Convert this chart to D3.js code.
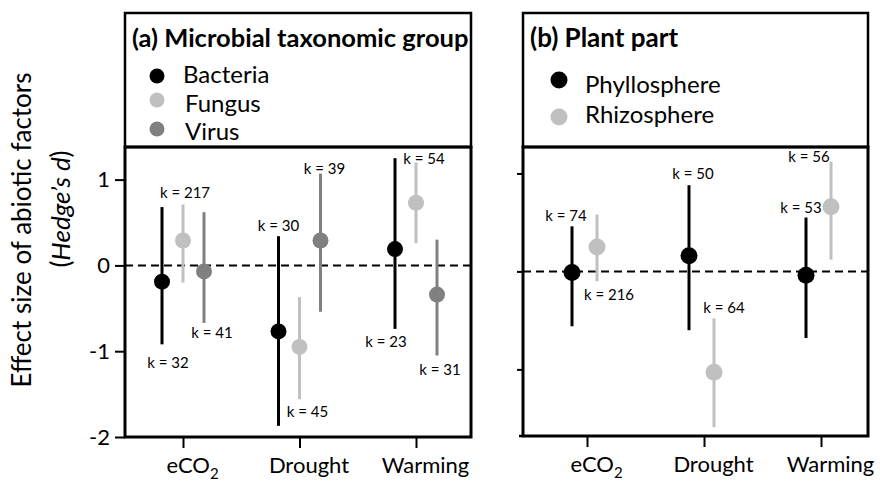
<!DOCTYPE html>
<html><head><meta charset="utf-8">
<script src="https://cdn.jsdelivr.net/npm/d3@7"></script>
<style>
body{margin:0;background:#fff;}
text{font-family:Lato,"Open Sans",sans-serif;fill:#000;}
</style></head>
<body><svg id="c" width="880" height="483"></svg>
<script>
// ---------- data ----------
const factors = ["eCO2", "Drought", "Warming"];

// Panel (a): microbial taxonomic group
const groupsA = ["Bacteria", "Fungus", "Virus"];
const meanA = [[-0.19, 0.29, -0.07], [-0.77, -0.95, 0.29], [0.19, 0.73, -0.34]];
const lowA  = [[-0.92, -0.20, -0.67], [-1.87, -1.56, -0.54], [-0.74, 0.26, -1.05]];
const highA = [[0.68, 0.71, 0.62], [0.34, -0.37, 1.07], [1.25, 1.20, 0.30]];
const kA    = [[32, 217, 41], [30, 45, 39], [23, 54, 31]];
const kSideA = [["below","above","below"],["above","below","above"],["below","above","below"]];

// Panel (b): plant part
const groupsB = ["Phyllosphere", "Rhizosphere"];
const meanB = [[-0.01, 0.25], [0.16, -1.03], [-0.04, 0.66]];
const lowB  = [[-0.56, -0.10], [-0.60, -1.59], [-0.68, 0.12]];
const highB = [[0.46, 0.58], [0.88, -0.48], [0.55, 1.12]];
const kB    = [[74, 216], [50, 64], [53, 56]];
const kSideB = [["above","below"],["above","above"],["above","above"]];

const yTicksA = [-2, -1, 0, 1];
const yTicksB = [-1, 0, 1];

// label nudges (annotation placement) [dx, dy]
const nudgeA = [[[6,24],[2,-6],[8,15]],[[0,-5],[8,18],[4,0]],[[-9,18],[8,2],[3,20]]];
const nudgeB = [[[-6,-5],[12,19]],[[4,-6],[10,-5]],[[-5,-5],[-22,0]]];

const colorsA = ["#000000", "#c0c0c0", "#808080"];
const colorsB = ["#000000", "#c0c0c0"];

// ---------- drawing ----------
const svg = d3.select("#c");

function panel(cfg) {
  const g = svg.append("g");
  const x = d3.scalePoint().domain(factors).range([cfg.xc0, cfg.xc1]);
  const dodge = d3.scalePoint().domain(cfg.groups).range(cfg.dodge);
  const y = d3.scaleLinear().domain(cfg.yDomain).range([cfg.bottom, cfg.top]);

  // header box
  g.append("rect").attr("x", cfg.left).attr("y", cfg.headTop)
    .attr("width", cfg.right - cfg.left).attr("height", cfg.top - cfg.headTop)
    .attr("fill", "none").attr("stroke", "#000").attr("stroke-width", 2.5);
  g.append("text").attr("x", cfg.titleX).attr("y", 47)
    .attr("font-weight", "bold").attr("font-size", cfg.titleSize).text(cfg.title);
  cfg.groups.forEach((s, i) => {
    g.append("circle").attr("cx", cfg.legX).attr("cy", cfg.legCy[i]).attr("r", cfg.legR)
      .attr("fill", cfg.colors[i]);
    g.append("text").attr("x", cfg.legTx[i]).attr("y", cfg.legTy[i])
      .attr("font-size", cfg.legSize).text(s);
  });

  // zero line
  g.append("line").attr("x1", cfg.left).attr("x2", cfg.right)
    .attr("y1", y(0)).attr("y2", y(0))
    .attr("stroke", "#000").attr("stroke-width", 2).attr("stroke-dasharray", "8,5");

  // axes
  const ya = g.append("g").attr("transform", `translate(${cfg.left},0)`)
    .call(d3.axisLeft(y).tickValues(cfg.yTicks).tickSize(cfg.yTickSize)
      .tickFormat(d => cfg.yLabels ? (d < 0 ? "-" + Math.abs(d) : String(d)) : ""));
  ya.select(".domain").remove();
  ya.selectAll(".tick line").attr("stroke-width", 2);
  ya.selectAll(".tick text").attr("font-size", 22).attr("font-family", "Lato").attr("dx", -2);

  const xa = g.append("g").attr("transform", `translate(0,${cfg.bottom})`)
    .call(d3.axisBottom(x).tickSize(11).tickFormat(""));
  xa.select(".domain").remove();
  xa.selectAll(".tick line").attr("stroke-width", 2);
  xa.selectAll(".tick").each(function(d) {
    const t = d3.select(this).append("text").attr("y", 36).attr("dx", 9)
      .attr("text-anchor", "middle").attr("font-size", 22).attr("fill", "#000");
    if (d === "eCO2") {
      t.append("tspan").text("eCO");
      t.append("tspan").attr("font-size", 15).attr("dy", 6).text("2");
    } else t.text(d);
  });
  if (cfg.extendBottom) {
    g.append("line").attr("x1", cfg.left - 4).attr("x2", cfg.left)
      .attr("y1", cfg.bottom).attr("y2", cfg.bottom).attr("stroke", "#000").attr("stroke-width", 2.5);
  }

  // error bars, points, labels
  factors.forEach((f, fi) => {
    cfg.groups.forEach((s, si) => {
      const cx = x(f) + dodge(s);
      g.append("line").attr("x1", cx).attr("x2", cx)
        .attr("y1", y(cfg.low[fi][si])).attr("y2", y(cfg.high[fi][si]))
        .attr("stroke", cfg.colors[si]).attr("stroke-width", 3);
      g.append("circle").attr("cx", cx).attr("cy", y(cfg.mean[fi][si])).attr("r", cfg.r)
        .attr("fill", cfg.colors[si]);
      const side = cfg.side[fi][si];
      const nd = cfg.nudge[fi][si];
      const base = side === "above" ? y(cfg.high[fi][si]) : y(cfg.low[fi][si]);
      g.append("text").attr("x", cx + nd[0]).attr("y", base + nd[1])
        .attr("text-anchor", "middle").attr("font-size", 15).text("k = " + cfg.k[fi][si]);
    });
  });

  // plot box
  g.append("rect").attr("x", cfg.left).attr("y", cfg.top)
    .attr("width", cfg.right - cfg.left).attr("height", cfg.bottom - cfg.top)
    .attr("fill", "none").attr("stroke", "#000").attr("stroke-width", 3);
}

panel({
  left: 125, right: 471, top: 147, bottom: 437, headTop: 13,
  xc0: 183, xc1: 416, dodge: [-21, 21], yDomain: [-2, 1.38],
  groups: groupsA, mean: meanA, low: lowA, high: highA, k: kA, side: kSideA, nudge: nudgeA,
  colors: colorsA, yTicks: yTicksA, yTickSize: 10, yLabels: true, r: 8,
  title: "(a) Microbial taxonomic group", titleX: 132, titleSize: 25.5,
  legX: 157, legCy: [76, 100, 129], legR: 7.5, legTx: [183, 185, 185], legTy: [83, 112, 140], legSize: 24
});

panel({
  left: 523, right: 868, top: 147, bottom: 436, headTop: 13,
  xc0: 587, xc1: 821, dodge: [-15, 10], yDomain: [-1.68, 1.27],
  groups: groupsB, mean: meanB, low: lowB, high: highB, k: kB, side: kSideB, nudge: nudgeB,
  colors: colorsB, yTicks: yTicksB, yTickSize: 6, yLabels: false, r: 8.5, extendBottom: true,
  title: "(b) Plant part", titleX: 530, titleSize: 26,
  legX: 559, legCy: [80, 117], legR: 8.5, legTx: [585, 585], legTy: [93, 123], legSize: 24
});

// y-axis title
svg.append("text").attr("transform", "translate(31,230) rotate(-90)")
  .attr("text-anchor", "middle").attr("font-size", 26).text("Effect size of abiotic factors");
const t2 = svg.append("text").attr("transform", "translate(70,209) rotate(-90)")
  .attr("text-anchor", "middle").attr("font-size", 26);
t2.append("tspan").text("(");
t2.append("tspan").attr("font-style", "italic").text("Hedge\u2019s d");
t2.append("tspan").text(")");
</script></body></html>
